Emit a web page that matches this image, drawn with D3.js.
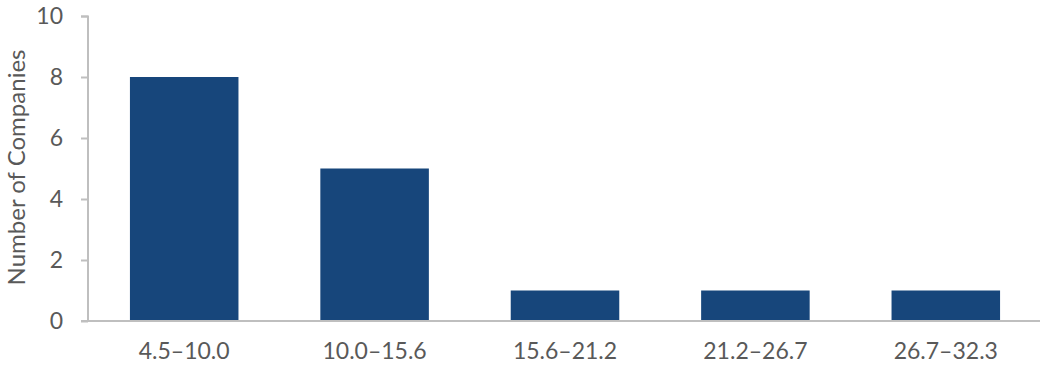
<!DOCTYPE html>
<html>
<head>
<meta charset="utf-8">
<script src="https://cdn.jsdelivr.net/npm/d3@7"></script>
<style>
  html, body { margin: 0; padding: 0; background: #fff; }
  svg { display: block; }
  svg text { font-family: Lato, "Open Sans", sans-serif; }
</style>
</head>
<body>
<svg id="chart" width="1043" height="366"></svg>
<script>
// Histogram of companies by value range
const categories = ["4.5–10.0", "10.0–15.6", "15.6–21.2", "21.2–26.7", "26.7–32.3"];
const counts = [8, 5, 1, 1, 1];
const yTicks = [0, 2, 4, 6, 8, 10];
const yTitle = "Number of Companies";

const svg = d3.select("#chart");
const margin = { top: 16, right: 3, bottom: 45, left: 88 };
const W = 1043, H = 366;
const innerW = W - margin.left - margin.right;
const innerH = H - margin.top - margin.bottom;

const g = svg.append("g").attr("transform", `translate(${margin.left},${margin.top})`);

const x = d3.scaleBand().domain(categories).range([1, innerW + 1]).paddingInner(0.43).paddingOuter(0.215);
const y = d3.scaleLinear().domain([0, 10]).range([innerH, 0]);

const axisColor = "#bfbfbf";
const textColor = "#595959";
const fontSize = "23px";

// bars
g.selectAll("rect.bar")
  .data(categories)
  .join("rect")
  .attr("class", "bar")
  .attr("x", d => x(d))
  .attr("width", x.bandwidth())
  .attr("y", (d, i) => y(counts[i]))
  .attr("height", (d, i) => y(0) - y(counts[i]))
  .attr("fill", "#17467b");

// y axis
const yAxis = g.append("g")
  .call(d3.axisLeft(y).tickValues(yTicks).tickSize(7).tickPadding(18).tickFormat(d3.format("d")));
yAxis.attr("font-family", null).attr("font-size", null);
yAxis.select(".domain").attr("stroke", axisColor).attr("stroke-width", 2).attr("d", `M-7,0.5H0V${innerH}`);
yAxis.selectAll(".tick line").attr("stroke", axisColor).attr("stroke-width", 2);
yAxis.selectAll(".tick text").attr("fill", textColor).style("font-size", fontSize);

// x axis
const xAxis = g.append("g")
  .attr("transform", `translate(0,${innerH})`)
  .call(d3.axisBottom(x).tickSize(0).tickPadding(22));
xAxis.attr("font-family", null).attr("font-size", null);
xAxis.select(".domain").attr("stroke", axisColor).attr("stroke-width", 2).attr("d", `M-7,0H${innerW}`);
xAxis.selectAll(".tick text").attr("fill", textColor).style("font-size", fontSize);

// y title
svg.append("text")
  .attr("transform", `translate(25,${margin.top + innerH / 2 - 1}) rotate(-90)`)
  .attr("text-anchor", "middle")
  .attr("fill", textColor)
  .style("font-size", "24px")
  .text(yTitle);
</script>
</body>
</html>
